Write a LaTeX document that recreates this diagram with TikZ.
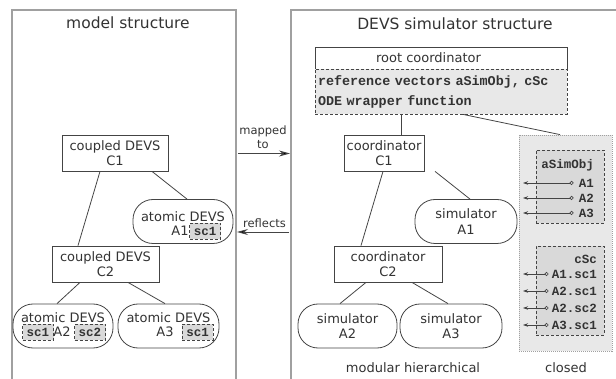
\documentclass[tikz,border=0pt]{standalone}
\usepackage{fontspec}
\setmainfont{DejaVu Sans}
\setmonofont{Liberation Mono}
\usetikzlibrary{arrows.meta}
\definecolor{ink}{HTML}{333333}
\definecolor{edge}{HTML}{444444}
\definecolor{panel}{HTML}{A0A0A0}
\definecolor{shade}{HTML}{E8E8E8}
\definecolor{shadedark}{HTML}{D9D9D9}

\begin{document}
\begin{tikzpicture}[x=1pt, y=-1pt,
  every node/.style={text=ink, font=\fontsize{13}{15.5}\selectfont},
  panelline/.style={draw=panel, line width=1.4pt},
  link/.style={draw=edge, line width=0.8pt},
  box/.style={draw=edge, line width=0.8pt, fill=white, minimum height=36pt, inner sep=0pt, align=center},
  pill/.style={box, rounded corners=20pt, minimum height=44pt},
  scbox/.style={draw=edge, line width=0.7pt, dash pattern=on 3pt off 2pt, fill=shadedark,
    minimum width=31pt, minimum height=16pt, inner sep=0pt, font=\ttfamily\bfseries\fontsize{12.5}{14}\selectfont},
  monotext/.style={inner sep=0pt, font=\ttfamily\bfseries\fontsize{12.5}{14}\selectfont},
  title/.style={font=\fontsize{15.5}{18}\selectfont},
  small/.style={align=center, font=\fontsize{11.5}{14}\selectfont},
  refarrow/.style={draw=edge, line width=0.7pt, {Stealth[length=5pt,width=3.5pt]}-{Circle[open,length=4pt]}},
  bigarrow/.style={draw=edge, line width=0.9pt, -{Stealth[length=11pt,width=6pt,fill=black]}}]
  \useasboundingbox (0,0) rectangle (616,379);

  % panels
  \draw[panelline] (12,379) -- (12,10) -- (236,10) -- (236,379);
  \draw[panelline] (291,379) -- (291,10) -- (616,10);
  \node[title] (modelTitle) at (128,23) {model structure};
  \node[title] (simTitle) at (455,24) {DEVS simulator structure};

  % model structure
  \node[box, minimum width=106pt] (mC1) at (115,153) {coupled DEVS\\C1};
  \node[pill, minimum width=100pt] (mA1) at (183,221.5) {};
  \node[box, minimum width=107pt] (mC2) at (105.5,264) {coupled DEVS\\C2};
  \node[pill, minimum width=100pt] (mA2) at (63,326) {};
  \node[pill, minimum width=101pt] (mA3) at (168.5,326) {};

  \node[inner sep=0pt] (mA1txt) at (183,217) {atomic DEVS};
  \node[inner sep=0pt] (mA1name) at (180,231) {A1};
  \node[scbox] (mA1sc1) at (205,231) {sc1};
  \node[inner sep=0pt] (mA2txt) at (63,317.5) {atomic DEVS};
  \node[scbox] (mA2sc1) at (38,332) {sc1};
  \node[inner sep=0pt] (mA2name) at (62,332) {A2};
  \node[scbox] (mA2sc2) at (90,332) {sc2};
  \node[inner sep=0pt] (mA3txt) at (168.5,317.5) {atomic DEVS};
  \node[inner sep=0pt] (mA3name) at (165,332) {A3};
  \node[scbox] (mA3sc1) at (197.5,332) {sc1};

  \draw[link] ([xshift=-15pt]mC1.south) -- ([xshift=-27.5pt]mC2.north);
  \draw[link] ([xshift=37pt]mC1.south) -- ([xshift=4pt]mA1.north);
  \draw[link] ([xshift=-25.5pt]mC2.south) -- ([xshift=-6pt]mA2.north);
  \draw[link] ([xshift=22.5pt]mC2.south) -- ([xshift=-3.5pt]mA3.north);

  % between the panels
  \node[small] (mappedTxt) at (263,137) {mapped\\to};
  \node[small] (reflectsTxt) at (264.5,223) {reflects};
  \coordinate (mapL) at (238,153.5);
  \coordinate (mapR) at (290,153.5);
  \coordinate (refL) at (237,232);
  \coordinate (refR) at (289,232);
  \draw[bigarrow] (mapL) -- (mapR);
  \draw[bigarrow] (refR) -- (refL);

  % simulator structure
  \node[draw=edge, line width=0.8pt, fill=white, minimum width=252pt, minimum height=22pt, inner sep=0pt] (rootHead) at (441,58) {};
  \node[inner sep=0pt] (rootTxt) at (428.5,58) {root coordinator};
  \node[draw=edge, line width=0.8pt, dash pattern=on 3pt off 2pt, fill=shade, minimum height=45pt,
    text width=246pt, inner xsep=3pt, inner ysep=0pt, align=left,
    font=\ttfamily\bfseries\fontsize{13.4}{20}\selectfont] (rootVec) at (441,91.5)
    {reference vectors aSimObj, cSc\\ODE wrapper function};

  \node[box, minimum width=80pt] (sC1) at (384,153) {coordinator\\C1};
  \node[pill, minimum width=102pt] (sA1) at (466,221.5) {simulator\\A1};
  \node[box, minimum width=108pt] (sC2) at (388,264) {coordinator\\C2};
  \node[pill, minimum width=99pt] (sA2) at (347.5,326) {simulator\\A2};
  \node[pill, minimum width=102pt] (sA3) at (451,326) {simulator\\A3};

  \node[draw=panel, line width=0.8pt, dash pattern=on 1pt off 1pt, fill=shade,
    minimum width=93pt, minimum height=216pt, inner sep=0pt] (closedBox) at (565.5,243) {};
  \node[draw=edge, line width=0.8pt, dash pattern=on 3pt off 2pt, fill=shadedark,
    minimum width=68pt, minimum height=73pt, inner sep=0pt] (simObjBox) at (570,186.5) {};
  \node[draw=edge, line width=0.8pt, dash pattern=on 3pt off 2pt, fill=shadedark,
    minimum width=68pt, minimum height=89pt, inner sep=0pt] (scBox) at (570,290.5) {};

  \draw[link] ([xshift=-40pt]rootVec.south) -- ([xshift=17pt]sC1.north);
  \draw[link] ([xshift=22pt]rootVec.south) -- ([xshift=-5.5pt]closedBox.north);
  \draw[link] ([xshift=-1pt]sC1.south) -- ([xshift=-27pt]sC2.north);
  \draw[link] ([xshift=51pt]sC1.south) -- ([xshift=4pt]sA1.north);
  \draw[link] ([xshift=-22pt]sC2.south) -- ([xshift=-7.5pt]sA2.north);
  \draw[link] ([xshift=24pt]sC2.south) -- ([xshift=-3pt]sA3.north);

  % reference vectors
  \node[monotext, anchor=east] (simObjTxt) at (594,165) {aSimObj};
  \foreach \n/\y in {1/183, 2/198, 3/213} {
    \node[monotext, anchor=east] (objA\n) at (594,\y) {A\n};
    \coordinate (objTip\n) at (523,\y);
    \draw[refarrow] (objTip\n) -- ([xshift=-5pt]objA\n.west);
  }
  \node[monotext, anchor=east] (scTxt) at (597,259) {cSc};
  \foreach \lbl [count=\i] in {A1.sc1, A2.sc1, A2.sc2, A3.sc1} {
    \node[monotext, anchor=east] (scRef\i) at (597,257+17*\i) {\lbl};
    \coordinate (scTip\i) at (523,257+17*\i);
    \draw[refarrow] (scTip\i) -- ([xshift=-3pt]scRef\i.west);
  }

  \node (modularTxt) at (413,368) {modular hierarchical};
  \node (closedTxt) at (566,368) {closed};
\end{tikzpicture}
\end{document}
